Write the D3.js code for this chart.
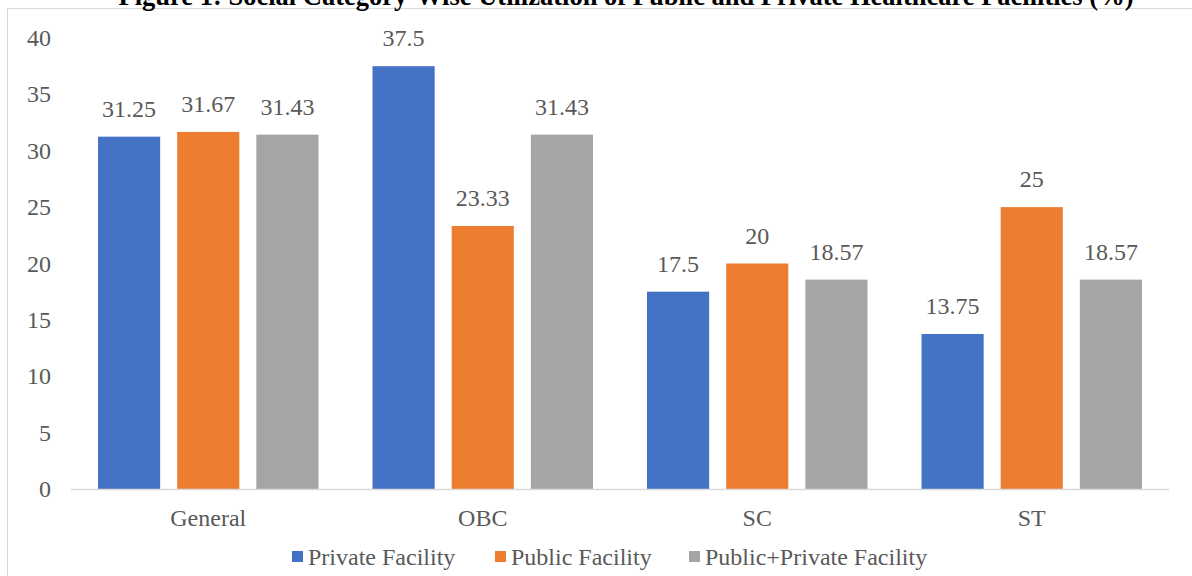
<!DOCTYPE html>
<html>
<head>
<meta charset="utf-8">
<script src="https://cdn.jsdelivr.net/npm/d3@7"></script>
<style>
  html, body { margin: 0; padding: 0; background: #fff; }
  svg { display: block; }
</style>
</head>
<body>
<svg id="chart" width="1192" height="576"></svg>
<script>
// Social category groups and utilisation share (%) by facility type
const categories = ["General", "OBC", "SC", "ST"];
const seriesNames = ["Private Facility", "Public Facility", "Public+Private Facility"];
const privateFacility = [31.25, 37.5, 17.5, 13.75];
const publicFacility = [31.67, 23.33, 20, 25];
const combinedFacility = [31.43, 31.43, 18.57, 18.57];
const yTicks = [0, 5, 10, 15, 20, 25, 30, 35, 40];
const seriesColors = ["#4472C4", "#ED7D31", "#A5A5A5"];

const seriesValues = [privateFacility, publicFacility, combinedFacility];
const W = 1192, H = 576;
const font = "'Liberation Serif', 'Times New Roman', serif";
const textColor = "#595959";
const fs = 24;

const svg = d3.select("#chart");

// outer chart frame
svg.append("rect")
  .attr("x", 7.5).attr("y", 8.5)
  .attr("width", W + 10).attr("height", H + 10)
  .attr("fill", "none").attr("stroke", "#d9d9d9").attr("stroke-width", 1);

// title
svg.append("text")
  .attr("x", 626).attr("y", 5)
  .attr("text-anchor", "middle")
  .attr("font-family", font).attr("font-weight", "bold").attr("font-size", 26.5)
  .attr("fill", "#000")
  .text("Figure 1: Social Category-Wise Utilization of Public and Private Healthcare Facilities (%)");

const plot = { left: 71, right: 1169, top: 38, bottom: 489 };

const x0 = d3.scaleBand().domain(categories).range([plot.left, plot.right]).paddingInner(0).paddingOuter(0);
const x1 = d3.scaleBand().domain(seriesNames).range([27, x0.bandwidth() - 27]).paddingInner(0.215).paddingOuter(0);
const y = d3.scaleLinear().domain([0, 40]).range([plot.bottom, plot.top]);

// y tick labels (no gridlines)
svg.append("g")
  .selectAll("text")
  .data(yTicks)
  .join("text")
  .attr("x", 51)
  .attr("y", d => y(d) + 8)
  .attr("text-anchor", "end")
  .attr("font-family", font).attr("font-size", fs)
  .attr("fill", textColor)
  .text(d => d);

// bars and value labels
const groups = svg.append("g")
  .selectAll("g")
  .data(categories)
  .join("g")
  .attr("transform", d => `translate(${x0(d)},0)`);

groups.selectAll("rect")
  .data((d, i) => seriesNames.map((s, k) => ({ s, k, v: seriesValues[k][i] })))
  .join("rect")
  .attr("x", d => x1(d.s))
  .attr("width", x1.bandwidth())
  .attr("y", d => y(d.v))
  .attr("height", d => y(0) - y(d.v))
  .attr("fill", d => seriesColors[d.k]);

groups.selectAll("text")
  .data((d, i) => seriesNames.map((s, k) => ({ s, k, v: seriesValues[k][i] })))
  .join("text")
  .attr("x", d => x1(d.s) + x1.bandwidth() / 2)
  .attr("y", d => y(d.v) - 20)
  .attr("text-anchor", "middle")
  .attr("font-family", font).attr("font-size", fs)
  .attr("fill", textColor)
  .text(d => d.v);

// category axis
svg.append("line")
  .attr("x1", plot.left).attr("x2", plot.right)
  .attr("y1", plot.bottom + 0.5).attr("y2", plot.bottom + 0.5)
  .attr("stroke", "#d9d9d9").attr("stroke-width", 1.5);

svg.append("g")
  .selectAll("text")
  .data(categories)
  .join("text")
  .attr("x", d => x0(d) + x0.bandwidth() / 2)
  .attr("y", 526)
  .attr("text-anchor", "middle")
  .attr("font-family", font).attr("font-size", fs)
  .attr("fill", textColor)
  .text(d => d);

// legend
const legendX = [292, 495, 689];
const legend = svg.append("g")
  .selectAll("g")
  .data(seriesNames)
  .join("g")
  .attr("transform", (d, i) => `translate(${legendX[i]},551)`);

legend.append("rect")
  .attr("x", 0).attr("y", 0).attr("width", 11).attr("height", 11)
  .attr("fill", (d, i) => seriesColors[i]);

legend.append("text")
  .attr("x", 16).attr("y", 14)
  .attr("font-family", font).attr("font-size", fs)
  .attr("fill", textColor)
  .text(d => d);
</script>
</body>
</html>
